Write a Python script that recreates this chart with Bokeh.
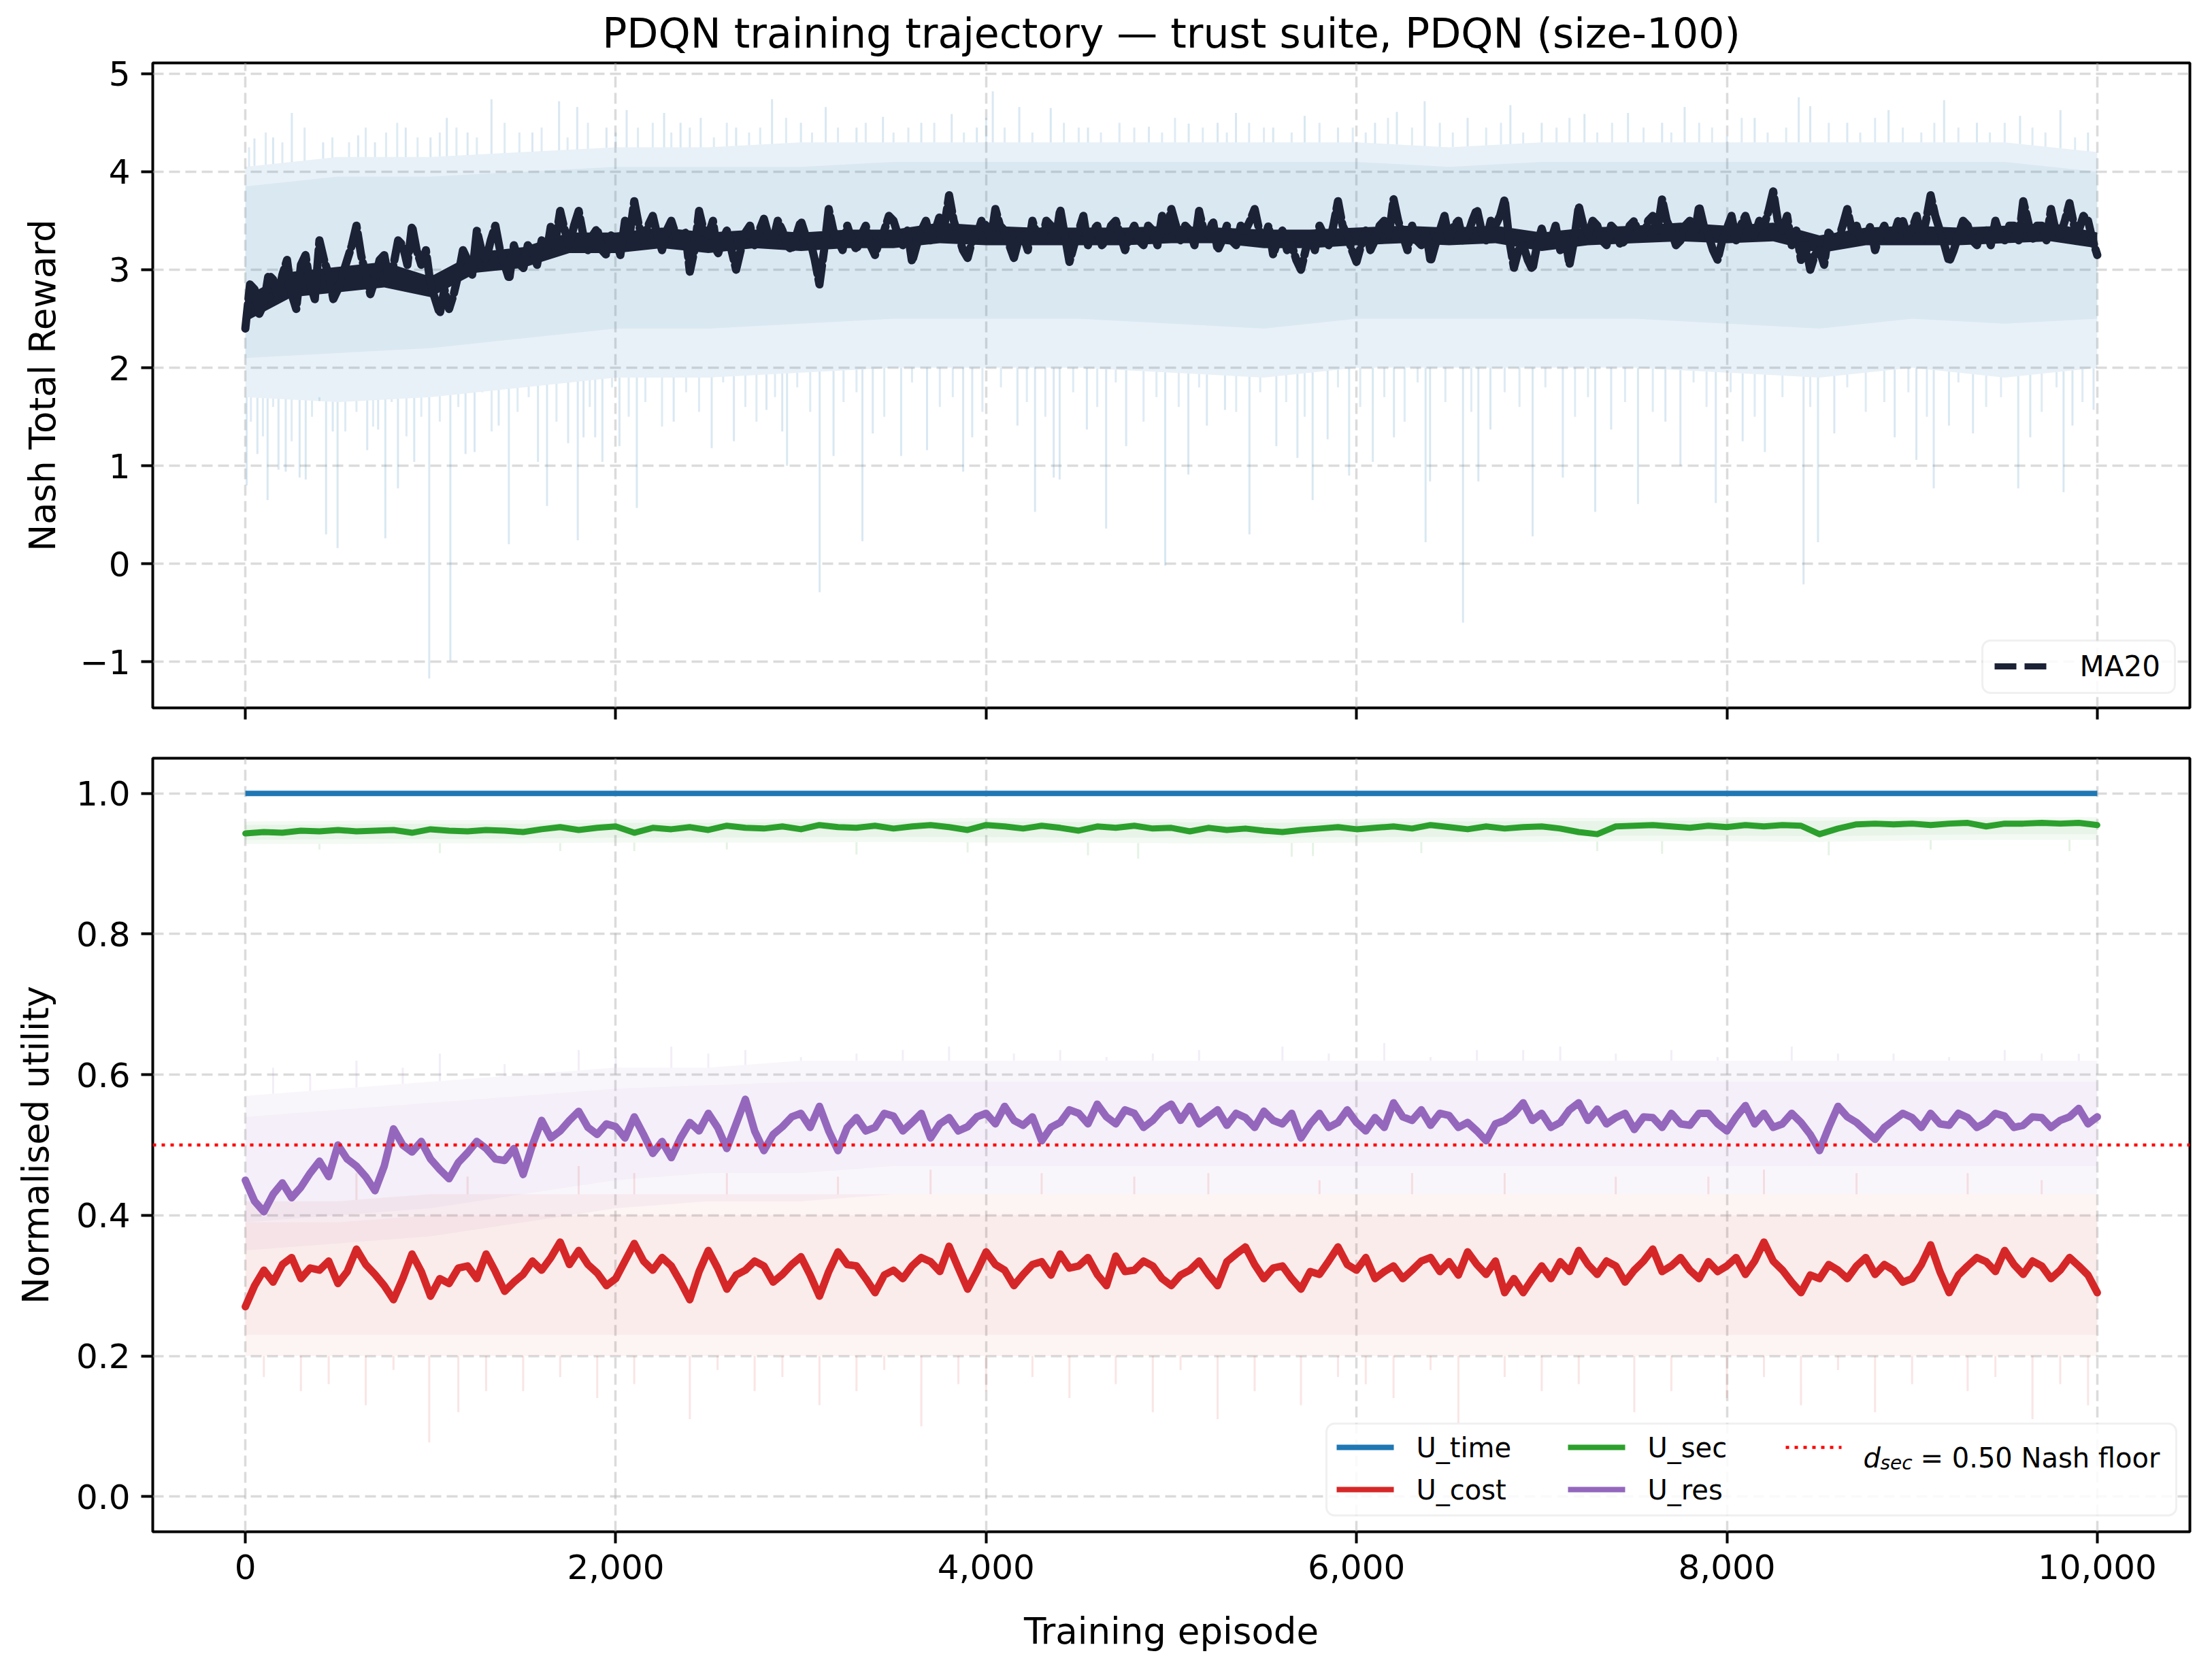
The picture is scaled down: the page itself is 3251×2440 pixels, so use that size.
import numpy as np
from bokeh.plotting import figure
from bokeh.models import (Range1d, FixedTicker, NumeralTickFormatter, Span,
                          BoxAnnotation, Label, Arrow)
from bokeh.layouts import column
from bokeh.embed import file_html
from bokeh.resources import INLINE

# ---------------------------------------------------------------- data
TITLE = "PDQN training trajectory \u2014 trust suite, PDQN (size-100)"

EP_25 = list(range(0, 10001, 25))     # sample grid of the reward MA20
EP_50 = list(range(0, 10001, 50))     # sample grid of U_cost / U_res MA
EP_100 = list(range(0, 10001, 100))   # sample grid of U_sec MA
EP_250 = list(range(0, 10001, 250))   # grid of the MA20 dense-core edges
EP_BAND = list(range(0, 10001, 500))  # grid of the raw-trace envelopes

REWARD_MA20 = [
    2.40, 2.85, 2.80, 2.55, 2.65, 2.95, 2.90, 2.70, 2.95, 3.10, 2.75, 2.60, 3.05, 3.15, 2.85, 2.70, 3.30, 3.10, 2.95, 2.70,
    2.80, 2.95, 3.10, 3.25, 3.45, 3.15, 2.95, 2.75, 2.90, 3.10, 3.15, 2.90, 3.05, 3.30, 3.25, 3.05, 3.45, 3.20, 3.05, 3.20,
    2.85, 2.70, 2.55, 2.80, 2.60, 2.75, 2.95, 3.20, 3.10, 2.95, 3.40, 3.20, 3.10, 3.30, 3.45, 3.20, 3.05, 2.90, 3.25, 3.10,
    3.00, 3.25, 3.20, 3.05, 3.30, 3.15, 3.45, 3.30, 3.60, 3.40, 3.25, 3.45, 3.60, 3.35, 3.20, 3.35, 3.42, 3.20, 3.15, 3.35,
    3.30, 3.15, 3.50, 3.35, 3.70, 3.45, 3.30, 3.45, 3.55, 3.35, 3.20, 3.40, 3.50, 3.35, 3.25, 3.40, 2.98, 3.20, 3.60, 3.40,
    3.35, 3.50, 3.15, 3.30, 3.40, 3.20, 3.00, 3.20, 3.38, 3.45, 3.25, 3.40, 3.52, 3.35, 3.30, 3.50, 3.40, 3.25, 3.20, 3.35,
    3.50, 3.35, 3.30, 3.10, 2.85, 3.20, 3.62, 3.40, 3.30, 3.20, 3.45, 3.30, 3.20, 3.35, 3.45, 3.25, 3.15, 3.30, 3.40, 3.55,
    3.50, 3.35, 3.25, 3.40, 3.08, 3.25, 3.40, 3.50, 3.30, 3.40, 3.55, 3.45, 3.76, 3.50, 3.35, 3.20, 3.12, 3.30, 3.35, 3.50,
    3.45, 3.30, 3.62, 3.45, 3.40, 3.25, 3.12, 3.30, 3.35, 3.20, 3.50, 3.35, 3.30, 3.50, 3.45, 3.30, 3.62, 3.35, 3.08, 3.25,
    3.40, 3.55, 3.25, 3.40, 3.45, 3.25, 3.30, 3.45, 3.50, 3.35, 3.20, 3.35, 3.45, 3.30, 3.25, 3.45, 3.40, 3.25, 3.55, 3.40,
    3.62, 3.45, 3.30, 3.45, 3.40, 3.25, 3.60, 3.40, 3.35, 3.50, 3.20, 3.30, 3.45, 3.30, 3.25, 3.45, 3.40, 3.50, 3.62, 3.40,
    3.30, 3.45, 3.15, 3.30, 3.40, 3.20, 3.25, 3.10, 3.00, 3.20, 3.35, 3.20, 3.45, 3.35, 3.25, 3.45, 3.70, 3.45, 3.35, 3.20,
    3.08, 3.25, 3.40, 3.20, 3.30, 3.45, 3.50, 3.35, 3.72, 3.50, 3.35, 3.20, 3.45, 3.30, 3.25, 3.40, 3.08, 3.25, 3.40, 3.55,
    3.30, 3.45, 3.50, 3.30, 3.35, 3.50, 3.62, 3.40, 3.30, 3.50, 3.45, 3.55, 3.72, 3.30, 3.02, 3.20, 3.25, 3.10, 3.00, 3.25,
    3.42, 3.25, 3.30, 3.45, 3.20, 3.35, 3.05, 3.30, 3.65, 3.45, 3.35, 3.50, 3.45, 3.30, 3.25, 3.45, 3.40, 3.25, 3.30, 3.45,
    3.50, 3.35, 3.35, 3.50, 3.55, 3.40, 3.72, 3.50, 3.40, 3.25, 3.30, 3.45, 3.50, 3.35, 3.65, 3.45, 3.35, 3.20, 3.10, 3.30,
    3.42, 3.55, 3.30, 3.45, 3.55, 3.40, 3.35, 3.50, 3.45, 3.60, 3.80, 3.50, 3.40, 3.55, 3.25, 3.40, 3.10, 3.25, 3.00, 3.15,
    3.20, 3.05, 3.40, 3.25, 3.30, 3.45, 3.62, 3.40, 3.45, 3.30, 3.30, 3.45, 3.20, 3.35, 3.45, 3.30, 3.35, 3.50, 3.50, 3.35,
    3.42, 3.55, 3.30, 3.50, 3.76, 3.55, 3.40, 3.25, 3.08, 3.20, 3.35, 3.50, 3.45, 3.30, 3.25, 3.40, 3.40, 3.25, 3.50, 3.35,
    3.30, 3.45, 3.45, 3.30, 3.70, 3.50, 3.30, 3.45, 3.45, 3.30, 3.62, 3.40, 3.35, 3.50, 3.68, 3.45, 3.40, 3.55, 3.50, 3.30,
    3.15,
]
# edges of the solidly over-drawn core of the MA20 curve
REWARD_MA20_DENSE_LO = [2.47, 2.72, 2.77, 2.82, 2.72, 2.97, 3.02, 3.17, 3.17, 3.22, 3.17,
                        3.22, 3.19, 3.22, 3.22, 3.27, 3.25, 3.25, 3.25, 3.25, 3.27,
                        3.27, 3.22, 3.22, 3.25, 3.27, 3.25, 3.27, 3.19, 3.25, 3.27,
                        3.29, 3.27, 3.29, 3.17, 3.25, 3.25, 3.25, 3.27, 3.29, 3.22]
REWARD_MA20_DENSE_HI = [2.73, 2.98, 3.03, 3.08, 2.93, 3.18, 3.23, 3.38, 3.38, 3.43, 3.38,
                        3.41, 3.38, 3.41, 3.41, 3.48, 3.45, 3.43, 3.43, 3.43, 3.45,
                        3.43, 3.41, 3.41, 3.43, 3.45, 3.43, 3.45, 3.38, 3.43, 3.45,
                        3.48, 3.45, 3.48, 3.35, 3.43, 3.45, 3.43, 3.45, 3.48, 3.38]

# raw reward trace: envelope of the dense band (outer) and its core
REWARD_BAND_LO = [1.70, 1.65, 1.70, 1.80, 1.90, 1.90, 1.95, 2.00, 2.00, 2.00, 1.95,
                  1.90, 2.00, 2.00, 2.00, 2.00, 1.95, 1.90, 2.00, 1.90, 2.00]
REWARD_BAND_HI = [4.05, 4.15, 4.15, 4.20, 4.25, 4.25, 4.30, 4.30, 4.30, 4.30, 4.30,
                  4.30, 4.30, 4.25, 4.30, 4.30, 4.30, 4.30, 4.30, 4.30, 4.20]
REWARD_CORE_LO = [2.10, 2.15, 2.20, 2.30, 2.40, 2.40, 2.45, 2.50, 2.50, 2.50, 2.45,
                  2.40, 2.50, 2.50, 2.50, 2.50, 2.45, 2.40, 2.50, 2.45, 2.50]
REWARD_CORE_HI = [3.85, 3.95, 3.95, 4.00, 4.05, 4.05, 4.05, 4.10, 4.10, 4.10, 4.10,
                  4.10, 4.10, 4.05, 4.10, 4.10, 4.10, 4.10, 4.10, 4.10, 4.00]
# isolated raw episodes reaching far below / above the band
REWARD_DOWN_EP = [7, 65, 120, 179, 218, 293, 326, 436, 472, 498, 658, 717, 756, 824, 912,
                  993, 1107, 1189, 1238, 1368, 1423, 1580, 1629, 1743, 1795, 1826, 1889,
                  1928, 2020, 2114, 2313, 2518, 2638, 2814, 2899, 2925, 3101, 3176, 3332,
                  3388, 3541, 3681, 3876, 3925, 4169, 4264, 4365, 4397, 4544, 4648, 4756,
                  4967, 5092, 5192, 5290, 5422, 5567, 5681, 5763, 5844, 5960, 6088, 6202,
                  6373, 6397, 6575, 6658, 6723, 6951, 7114, 7289, 7375, 7520, 7668, 7749,
                  7940, 8085, 8205, 8414, 8492, 8580, 8906, 9023, 9117, 9199, 9329, 9573,
                  9638, 9818, 9866, 9980]
REWARD_DOWN_VAL = [0.80, 1.12, 0.65, 0.96, 0.94, 0.88, 0.86, 0.30, 1.35, 0.16, 1.16, 1.37,
                   0.26, 0.77, 1.04, -1.17, -0.99, 1.12, 1.14, 1.41, 0.20, 1.04, 0.59, 1.23,
                   0.24, 1.29, 1.29, 1.04, 1.20, 0.57, 1.45, 1.18, 1.25, 1.57, 1.35, 1.00,
                   -0.29, 1.10, 0.23, 1.33, 1.10, 1.16, 0.94, 1.29, 1.41, 0.53, 0.88, 0.86,
                   1.37, 0.36, 1.20, -0.02, 0.91, 1.41, 1.57, 0.30, 1.20, 1.08, 0.65, 1.27,
                   0.90, 1.04, 1.29, 0.22, 0.84, -0.60, 0.84, 1.37, 0.28, 0.88, 0.53, 1.37,
                   0.61, 1.45, 1.00, 0.62, 1.25, 1.14, -0.21, 0.22, 1.33, 1.29, 1.06, 0.77,
                   1.41, 1.33, 0.77, 1.29, 0.73, 1.41, 1.57]
REWARD_UP_EP = [49, 150, 251, 420, 609, 700, 866, 1000, 1088, 1200, 1329, 1550, 1694, 1792,
                1950, 2059, 2261, 2350, 2459, 2650, 2844, 3000, 3134, 3300, 3443, 3650,
                3814, 3950, 4036, 4179, 4349, 4550, 4879, 5094, 5250, 5349, 5550, 5720,
                5900, 6100, 6218, 6368, 6600, 6831, 7000, 7231, 7466, 7650, 7772, 8000,
                8150, 8388, 8450, 8650, 8873, 9173, 9350, 9583, 9801, 9950]
REWARD_UP_VAL = [4.34, 4.35, 4.60, 4.30, 4.37, 4.30, 4.45, 4.35, 4.55, 4.40, 4.74, 4.40,
                 4.72, 4.66, 4.45, 4.63, 4.60, 4.50, 4.55, 4.45, 4.74, 4.50, 4.66, 4.45,
                 4.56, 4.50, 4.59, 4.45, 4.82, 4.66, 4.65, 4.45, 4.46, 4.49, 4.50, 4.60,
                 4.45, 4.57, 4.45, 4.50, 4.61, 4.72, 4.55, 4.68, 4.50, 4.59, 4.60, 4.50,
                 4.66, 4.36, 4.55, 4.76, 4.67, 4.50, 4.63, 4.73, 4.50, 4.57, 4.63, 4.40]
# the fringe of moderate excursions just outside the band
REWARD_FRINGE_DOWN_EP = [30, 95, 150, 250, 360, 400, 540, 600, 690, 790, 870, 950, 1050, 1150,
                         1280, 1330, 1470, 1530, 1680, 1860, 1980, 2070, 2160, 2250, 2380,
                         2450, 2580, 2700, 2760, 2860, 2980, 3050, 3230, 3300, 3450, 3600,
                         3750, 3820, 3980, 4080, 4220, 4320, 4470, 4600, 4700, 4850, 4920,
                         5040, 5150, 5350, 5480, 5620, 5720, 5900, 6020, 6150, 6260, 6330,
                         6480, 6620, 6800, 6880, 7020, 7180, 7250, 7450, 7600, 7820, 7890,
                         8020, 8150, 8300, 8450, 8650, 8750, 8850, 8980, 9080, 9250, 9400,
                         9480, 9700, 9780, 9920]
REWARD_FRINGE_DOWN_VAL = [1.45, 1.30, 1.60, 1.25, 1.50, 1.70, 1.35, 1.55, 1.40, 1.65,
                          1.30, 1.50, 1.45, 1.60, 1.75, 1.35, 1.55, 1.70, 1.45, 1.60,
                          1.80, 1.50, 1.65, 1.40, 1.75, 1.55, 1.85, 1.60, 1.45, 1.70,
                          1.80, 1.55, 1.65, 1.75, 1.50, 1.85, 1.60, 1.70, 1.55, 1.80,
                          1.65, 1.50, 1.75, 1.60, 1.85, 1.45, 1.70, 1.60, 1.80, 1.55,
                          1.75, 1.65, 1.50, 1.80, 1.60, 1.70, 1.45, 1.85, 1.65, 1.55,
                          1.75, 1.60, 1.80, 1.50, 1.70, 1.65, 1.55, 1.85, 1.60, 1.75,
                          1.50, 1.70, 1.60, 1.80, 1.55, 1.65, 1.75, 1.50, 1.85, 1.60,
                          1.70, 1.55, 1.80, 1.65]
REWARD_FRINGE_UP_EP = [20, 110, 200, 320, 470, 560, 650, 760, 820, 930, 1050, 1140, 1250,
                       1400, 1480, 1600, 1740, 1850, 2000, 2120, 2200, 2300, 2400, 2530,
                       2600, 2720, 2780, 2920, 3060, 3200, 3350, 3500, 3580, 3720, 3880,
                       4000, 4100, 4250, 4420, 4500, 4620, 4720, 4800, 4950, 5020, 5170,
                       5300, 5420, 5500, 5650, 5800, 5980, 6050, 6170, 6300, 6450, 6520,
                       6700, 6780, 6900, 7080, 7150, 7300, 7380, 7550, 7700, 7850, 7920,
                       8080, 8220, 8320, 8550, 8720, 8800, 8950, 9050, 9120, 9250, 9420,
                       9500, 9650, 9720, 9880]
REWARD_FRINGE_UP_VAL = [4.25, 4.40, 4.30, 4.45, 4.35, 4.30, 4.45, 4.40, 4.50, 4.35,
                        4.40, 4.45, 4.35, 4.50, 4.40, 4.45, 4.35, 4.50, 4.40, 4.45,
                        4.50, 4.40, 4.45, 4.35, 4.50, 4.40, 4.45, 4.55, 4.40, 4.45,
                        4.50, 4.40, 4.45, 4.50, 4.40, 4.55, 4.45, 4.40, 4.50, 4.45,
                        4.40, 4.50, 4.45, 4.40, 4.55, 4.45, 4.40, 4.50, 4.45, 4.40,
                        4.50, 4.45, 4.40, 4.55, 4.45, 4.50, 4.40, 4.45, 4.50, 4.40,
                        4.45, 4.55, 4.40, 4.50, 4.45, 4.40, 4.50, 4.45, 4.55, 4.40,
                        4.45, 4.50, 4.40, 4.55, 4.45, 4.40, 4.50, 4.45, 4.40, 4.50,
                        4.45, 4.40, 4.35]

U_TIME_LEVEL = 1.0

U_SEC_MA = [
    0.943, 0.945, 0.944, 0.947, 0.946, 0.948, 0.946, 0.947, 0.948, 0.944,
    0.949, 0.947, 0.946, 0.948, 0.947, 0.945, 0.949, 0.952, 0.948, 0.951,
    0.953, 0.944, 0.951, 0.949, 0.952, 0.948, 0.954, 0.951, 0.950, 0.953,
    0.949, 0.955, 0.952, 0.951, 0.954, 0.950, 0.953, 0.955, 0.952, 0.948,
    0.955, 0.953, 0.950, 0.954, 0.951, 0.947, 0.953, 0.951, 0.954, 0.950,
    0.951, 0.946, 0.951, 0.948, 0.950, 0.947, 0.945, 0.948, 0.950, 0.952,
    0.949, 0.951, 0.953, 0.950, 0.955, 0.952, 0.949, 0.953, 0.950, 0.952,
    0.953, 0.950, 0.945, 0.942, 0.953, 0.954, 0.955, 0.953, 0.951, 0.954,
    0.952, 0.955, 0.953, 0.955, 0.954, 0.942, 0.950, 0.956, 0.957, 0.956,
    0.957, 0.955, 0.957, 0.958, 0.953, 0.957, 0.957, 0.958, 0.957, 0.958,
    0.955,
]
U_RES_MA = [
    0.450, 0.420, 0.405, 0.430, 0.446, 0.425, 0.440, 0.460, 0.477, 0.455, 0.500, 0.480, 0.470, 0.455, 0.435, 0.470, 0.523, 0.500, 0.490, 0.505,
    0.480, 0.465, 0.452, 0.475, 0.489, 0.505, 0.495, 0.480, 0.478, 0.495, 0.458, 0.500, 0.535, 0.510, 0.520, 0.535, 0.548, 0.525, 0.515, 0.530,
    0.526, 0.510, 0.540, 0.515, 0.488, 0.505, 0.482, 0.510, 0.532, 0.520, 0.545, 0.525, 0.495, 0.530, 0.565, 0.520, 0.492, 0.515, 0.526, 0.540,
    0.545, 0.525, 0.555, 0.520, 0.492, 0.525, 0.539, 0.520, 0.525, 0.545, 0.541, 0.520, 0.532, 0.545, 0.510, 0.530, 0.539, 0.520, 0.526, 0.540,
    0.545, 0.530, 0.555, 0.535, 0.528, 0.540, 0.506, 0.525, 0.532, 0.550, 0.545, 0.530, 0.558, 0.540, 0.530, 0.550, 0.545, 0.525, 0.535, 0.550,
    0.558, 0.535, 0.555, 0.530, 0.540, 0.550, 0.528, 0.545, 0.539, 0.525, 0.548, 0.535, 0.530, 0.545, 0.510, 0.530, 0.545, 0.525, 0.532, 0.550,
    0.532, 0.520, 0.539, 0.525, 0.560, 0.540, 0.535, 0.550, 0.528, 0.545, 0.542, 0.525, 0.532, 0.520, 0.506, 0.530, 0.535, 0.545, 0.560, 0.535,
    0.545, 0.525, 0.532, 0.550, 0.560, 0.535, 0.551, 0.530, 0.539, 0.545, 0.522, 0.540, 0.539, 0.525, 0.545, 0.530, 0.528, 0.545, 0.545, 0.530,
    0.520, 0.540, 0.556, 0.530, 0.545, 0.525, 0.530, 0.545, 0.532, 0.515, 0.492, 0.525, 0.555, 0.540, 0.532, 0.520, 0.508, 0.525, 0.535, 0.545,
    0.539, 0.525, 0.545, 0.530, 0.528, 0.545, 0.539, 0.525, 0.532, 0.545, 0.541, 0.525, 0.528, 0.540, 0.539, 0.525, 0.535, 0.540, 0.552, 0.530,
    0.540,
]
U_COST_MA = [
    0.270, 0.300, 0.322, 0.305, 0.330, 0.340, 0.310, 0.325, 0.322, 0.335, 0.303, 0.320, 0.352, 0.330, 0.316, 0.300, 0.280, 0.310, 0.345, 0.320,
    0.285, 0.310, 0.303, 0.325, 0.328, 0.310, 0.345, 0.320, 0.292, 0.305, 0.316, 0.335, 0.322, 0.340, 0.362, 0.330, 0.350, 0.330, 0.318, 0.300,
    0.310, 0.335, 0.360, 0.335, 0.322, 0.340, 0.328, 0.305, 0.280, 0.320, 0.350, 0.325, 0.295, 0.315, 0.322, 0.335, 0.328, 0.305, 0.316, 0.330,
    0.341, 0.315, 0.285, 0.320, 0.348, 0.330, 0.328, 0.310, 0.290, 0.315, 0.322, 0.310, 0.328, 0.340, 0.334, 0.320, 0.356, 0.325, 0.295, 0.320,
    0.348, 0.330, 0.322, 0.300, 0.316, 0.330, 0.334, 0.315, 0.345, 0.325, 0.328, 0.340, 0.316, 0.300, 0.342, 0.320, 0.322, 0.335, 0.328, 0.310,
    0.300, 0.315, 0.322, 0.335, 0.316, 0.300, 0.334, 0.345, 0.355, 0.330, 0.310, 0.325, 0.328, 0.310, 0.295, 0.320, 0.316, 0.335, 0.355, 0.330,
    0.322, 0.340, 0.310, 0.320, 0.328, 0.310, 0.322, 0.335, 0.340, 0.320, 0.334, 0.315, 0.348, 0.330, 0.316, 0.335, 0.290, 0.310, 0.290, 0.310,
    0.328, 0.310, 0.334, 0.320, 0.350, 0.330, 0.316, 0.335, 0.328, 0.305, 0.322, 0.335, 0.352, 0.320, 0.328, 0.340, 0.322, 0.310, 0.334, 0.320,
    0.328, 0.340, 0.316, 0.335, 0.362, 0.335, 0.322, 0.305, 0.290, 0.315, 0.310, 0.330, 0.322, 0.310, 0.328, 0.340, 0.316, 0.330, 0.322, 0.305,
    0.310, 0.330, 0.358, 0.320, 0.290, 0.315, 0.328, 0.340, 0.334, 0.320, 0.350, 0.330, 0.316, 0.335, 0.328, 0.310, 0.322, 0.340, 0.328, 0.315,
    0.290,
]

# raw utility traces: envelopes and isolated excursions
SEC_BAND_LO = [0.928, 0.928, 0.929, 0.929, 0.930, 0.930, 0.930, 0.931, 0.930, 0.930, 0.929,
               0.929, 0.930, 0.931, 0.931, 0.932, 0.932, 0.931, 0.933, 0.934, 0.934]
SEC_BAND_HI = [0.960, 0.961, 0.962, 0.962, 0.963, 0.963, 0.964, 0.964, 0.965, 0.964, 0.964,
               0.963, 0.964, 0.965, 0.965, 0.965, 0.966, 0.966, 0.966, 0.966, 0.966]
SEC_CORE_LO = [0.934, 0.935, 0.935, 0.936, 0.937, 0.937, 0.938, 0.938, 0.938, 0.937, 0.937,
               0.937, 0.938, 0.938, 0.939, 0.940, 0.940, 0.939, 0.941, 0.942, 0.942]
SEC_CORE_HI = [0.955, 0.956, 0.957, 0.957, 0.958, 0.958, 0.959, 0.959, 0.960, 0.959, 0.959,
               0.958, 0.959, 0.960, 0.960, 0.961, 0.961, 0.961, 0.962, 0.962, 0.962]
SEC_DOWN_EP = [400, 1050, 1700, 2100, 2600, 3300, 3900, 4550, 4821, 5650, 5765, 6350, 7300,
               7650, 8550, 9100, 9850]
SEC_DOWN_VAL = [0.920, 0.915, 0.918, 0.918, 0.920, 0.913, 0.916, 0.912, 0.907, 0.910, 0.911,
                0.915, 0.918, 0.914, 0.912, 0.920, 0.918]

RES_BAND_LO = [0.35, 0.36, 0.37, 0.39, 0.41, 0.42, 0.42, 0.43, 0.43, 0.43, 0.43,
               0.43, 0.43, 0.43, 0.43, 0.43, 0.43, 0.43, 0.43, 0.43, 0.43]
RES_BAND_HI = [0.57, 0.58, 0.59, 0.60, 0.61, 0.61, 0.62, 0.62, 0.62, 0.62, 0.62,
               0.62, 0.62, 0.62, 0.62, 0.62, 0.62, 0.62, 0.62, 0.62, 0.62]
RES_CORE_LO = [0.39, 0.40, 0.41, 0.43, 0.45, 0.46, 0.46, 0.47, 0.47, 0.47, 0.47,
               0.47, 0.47, 0.47, 0.47, 0.47, 0.47, 0.47, 0.47, 0.47, 0.47]
RES_CORE_HI = [0.54, 0.55, 0.56, 0.57, 0.58, 0.585, 0.59, 0.59, 0.59, 0.59, 0.59,
               0.59, 0.59, 0.59, 0.59, 0.59, 0.59, 0.59, 0.59, 0.59, 0.59]
RES_UP_EP = [150, 600, 1050, 1800, 2300, 2700, 3300, 3800, 4400, 4900, 5600, 6150, 6650,
             7100, 7700, 8350, 8900, 9500, 9900,
             350, 850, 1400, 2000, 2500, 3000, 3550, 4150, 4650, 5150, 5850, 6400, 6900,
             7400, 7950, 8600, 9200, 9700]
RES_UP_VAL = [0.610, 0.620, 0.630, 0.635, 0.640, 0.635, 0.630, 0.640, 0.635, 0.630, 0.640,
              0.645, 0.635, 0.640, 0.635, 0.640, 0.630, 0.635, 0.630,
              0.600, 0.610, 0.615, 0.625, 0.630, 0.625, 0.635, 0.630, 0.625, 0.635, 0.630,
              0.625, 0.635, 0.630, 0.625, 0.630, 0.625, 0.630]

COST_BAND_LO = [0.20, 0.20, 0.20, 0.20, 0.20, 0.20, 0.20, 0.20, 0.20, 0.20, 0.20,
                0.20, 0.20, 0.20, 0.20, 0.20, 0.20, 0.20, 0.20, 0.20, 0.20]
COST_BAND_HI = [0.42, 0.42, 0.43, 0.43, 0.43, 0.43, 0.43, 0.43, 0.43, 0.43, 0.43,
                0.43, 0.43, 0.43, 0.43, 0.43, 0.43, 0.43, 0.43, 0.43, 0.43]
COST_CORE_LO = [0.23, 0.23, 0.23, 0.23, 0.23, 0.23, 0.23, 0.23, 0.23, 0.23, 0.23,
                0.23, 0.23, 0.23, 0.23, 0.23, 0.23, 0.23, 0.23, 0.23, 0.23]
COST_CORE_HI = [0.39, 0.39, 0.40, 0.40, 0.40, 0.40, 0.40, 0.40, 0.40, 0.40, 0.40,
                0.40, 0.40, 0.40, 0.40, 0.40, 0.40, 0.40, 0.40, 0.40, 0.40]
COST_DOWN_EP = [300, 650, 993, 1150, 1500, 1900, 2400, 2750, 3100, 3650, 4000, 4450, 4900,
                5250, 5700, 6200, 6550, 7000, 7500, 8000, 8400, 8800, 9300, 9650, 9950,
                100, 450, 800, 1300, 1700, 2100, 2550, 2900, 3300, 3450, 3850, 4250, 4700,
                5050, 5450, 5900, 6050, 6400, 6800, 7200, 7700, 8200, 8600, 9000, 9450, 9800]
COST_DOWN_VAL = [0.15, 0.13, 0.077, 0.12, 0.15, 0.14, 0.11, 0.15, 0.13, 0.10, 0.15, 0.14,
                 0.12, 0.11, 0.13, 0.14, 0.105, 0.15, 0.12, 0.14, 0.13, 0.12, 0.15, 0.11, 0.13,
                 0.17, 0.16, 0.18, 0.15, 0.17, 0.16, 0.18, 0.17, 0.15, 0.18, 0.16, 0.17, 0.16,
                 0.18, 0.15, 0.17, 0.16, 0.18, 0.17, 0.16, 0.15, 0.17, 0.18, 0.16, 0.17, 0.16]
COST_UP_EP = [600, 1800, 2600, 3700, 5200, 6300, 7400, 8200, 9300,
              1200, 2100, 3200, 4300, 4800, 5800, 6800, 7900, 8700, 9700]
COST_UP_VAL = [0.46, 0.47, 0.46, 0.465, 0.46, 0.46, 0.455, 0.465, 0.46,
               0.455, 0.46, 0.455, 0.46, 0.455, 0.45, 0.46, 0.455, 0.46, 0.45]

NASH_FLOOR = 0.50

X_TICKS = [0, 2000, 4000, 6000, 8000, 10000]
Y1_TICKS = [-1, 0, 1, 2, 3, 4, 5]
Y2_TICKS = [0.0, 0.2, 0.4, 0.6, 0.8, 1.0]

# ---------------------------------------------------------------- style
FONT = "DejaVu Sans"
C_MA = "#1b2236"
C_TIME = "#1f77b4"
C_COST = "#d62728"
C_SEC = "#2ca02c"
C_RES = "#9467bd"
C_REW_RAW = "#1f77b4"

X_RANGE = (-500, 10500)
Y1_RANGE = (-1.47, 5.11)
Y2_RANGE = (-0.05, 1.05)
FW = 2994
FH1 = 948
FH2 = 1137


def style(p):
    p.outline_line_color = "black"
    p.outline_line_width = 4
    p.background_fill_color = "white"
    p.border_fill_color = "white"
    for ax in p.axis:
        ax.axis_line_color = None
        ax.major_tick_line_color = "black"
        ax.major_tick_line_width = 4
        ax.major_tick_in = 0
        ax.major_tick_out = 17
        ax.minor_tick_line_color = None
        ax.major_label_text_font = FONT
        ax.major_label_text_font_size = "50px"
        ax.major_label_text_color = "black"
        ax.major_label_standoff = 16
        ax.axis_label_text_font = FONT
        ax.axis_label_text_font_size = "53px"
        ax.axis_label_text_font_style = "normal"
        ax.axis_label_text_color = "black"
    for g in p.grid:
        g.grid_line_color = "#b0b0b0"
        g.grid_line_alpha = 0.45
        g.grid_line_width = 3.5
        g.grid_line_dash = "16 8"


def fx(px):
    return X_RANGE[0] + px * (X_RANGE[1] - X_RANGE[0]) / FW


def fy(py, yr, fh):
    return yr[1] - py * (yr[1] - yr[0]) / fh


def band(p, color, ep, lo, hi, clo, chi, a_outer, a_core):
    p.varea(x=ep, y1=lo, y2=hi, fill_color=color, fill_alpha=a_outer)
    p.varea(x=ep, y1=clo, y2=chi, fill_color=color, fill_alpha=a_core)


def spikes(p, color, ep_band, anchor_vals, sp_ep, sp_val, alpha):
    anchor = np.interp(sp_ep, ep_band, anchor_vals)
    p.segment(x0=sp_ep, y0=anchor, x1=sp_ep, y1=sp_val,
              line_color=color, line_alpha=alpha, line_width=3)


# ---------------------------------------------------------------- top panel
x_range = Range1d(*X_RANGE)
p1 = figure(frame_width=FW, frame_height=FH1, x_range=x_range,
            y_range=Range1d(*Y1_RANGE), output_backend="svg", toolbar_location=None,
            min_border_left=224, min_border_right=17, min_border_top=92,
            min_border_bottom=34, title=TITLE)
p1.title.text_font = FONT
p1.title.text_font_size = "60px"
p1.title.text_font_style = "normal"
p1.title.text_color = "black"
p1.title.align = "center"
p1.title.standoff = 18

band(p1, C_REW_RAW, EP_BAND, REWARD_BAND_LO, REWARD_BAND_HI, REWARD_CORE_LO,
     REWARD_CORE_HI, 0.10, 0.065)
spikes(p1, C_REW_RAW, EP_BAND, REWARD_BAND_LO, REWARD_FRINGE_DOWN_EP,
       REWARD_FRINGE_DOWN_VAL, 0.15)
spikes(p1, C_REW_RAW, EP_BAND, REWARD_BAND_HI, REWARD_FRINGE_UP_EP,
       REWARD_FRINGE_UP_VAL, 0.15)
spikes(p1, C_REW_RAW, EP_BAND, REWARD_BAND_LO, REWARD_DOWN_EP, REWARD_DOWN_VAL, 0.17)
spikes(p1, C_REW_RAW, EP_BAND, REWARD_BAND_HI, REWARD_UP_EP, REWARD_UP_VAL, 0.17)
p1.varea(x=EP_250, y1=REWARD_MA20_DENSE_LO, y2=REWARD_MA20_DENSE_HI, fill_color=C_MA,
         fill_alpha=1.0)
p1.line(EP_25, REWARD_MA20, line_color=C_MA, line_width=12, line_dash="36 8",
        line_join="round", line_cap="round")

p1.xaxis.ticker = FixedTicker(ticks=X_TICKS)
p1.xaxis.major_label_overrides = {t: "" for t in X_TICKS}
p1.yaxis.ticker = FixedTicker(ticks=Y1_TICKS)
p1.yaxis.major_label_overrides = {-1: "\u22121"}
p1.yaxis.axis_label = "Nash Total Reward"
p1.yaxis.axis_label_standoff = 22
style(p1)
p1.xaxis.major_label_standoff = 0

# manual legend, top panel (positions in frame pixels)
p1.add_layout(BoxAnnotation(left=fx(2689), right=fx(2972), top=fy(849, Y1_RANGE, FH1),
                            bottom=fy(926, Y1_RANGE, FH1), fill_color="white",
                            fill_alpha=0.85, line_color="#cccccc", line_width=3,
                            border_radius=12))
p1.add_layout(Arrow(end=None, x_start=fx(2707), x_end=fx(2795),
                    y_start=fy(887, Y1_RANGE, FH1), y_end=fy(887, Y1_RANGE, FH1),
                    line_color=C_MA, line_width=9, line_dash="32 12"))
p1.add_layout(Label(x=fx(2832), y=fy(887, Y1_RANGE, FH1), text="MA20",
                    text_font=FONT, text_font_size="42px", text_color="black",
                    text_baseline="middle"))

# ---------------------------------------------------------------- bottom panel
p2 = figure(frame_width=FW, frame_height=FH2, x_range=x_range,
            y_range=Range1d(*Y2_RANGE), output_backend="svg", toolbar_location=None,
            min_border_left=224, min_border_right=17, min_border_top=40,
            min_border_bottom=160)

band(p2, C_SEC, EP_BAND, SEC_BAND_LO, SEC_BAND_HI, SEC_CORE_LO, SEC_CORE_HI, 0.06, 0.05)
spikes(p2, C_SEC, EP_BAND, SEC_BAND_LO, SEC_DOWN_EP, SEC_DOWN_VAL, 0.12)
band(p2, C_RES, EP_BAND, RES_BAND_LO, RES_BAND_HI, RES_CORE_LO, RES_CORE_HI, 0.06, 0.045)
spikes(p2, C_RES, EP_BAND, RES_BAND_HI, RES_UP_EP, RES_UP_VAL, 0.12)
band(p2, C_COST, EP_BAND, COST_BAND_LO, COST_BAND_HI, COST_CORE_LO, COST_CORE_HI,
     0.05, 0.04)
spikes(p2, C_COST, EP_BAND, COST_BAND_LO, COST_DOWN_EP, COST_DOWN_VAL, 0.12)
spikes(p2, C_COST, EP_BAND, COST_BAND_HI, COST_UP_EP, COST_UP_VAL, 0.12)

p2.line([EP_100[0], EP_100[-1]], [U_TIME_LEVEL, U_TIME_LEVEL], line_color=C_TIME,
        line_width=8)
p2.line(EP_100, U_SEC_MA, line_color=C_SEC, line_width=9, line_join="round",
        line_cap="round")
p2.line(EP_50, U_RES_MA, line_color=C_RES, line_width=11, line_join="round",
        line_cap="round")
p2.line(EP_50, U_COST_MA, line_color=C_COST, line_width=11, line_join="round",
        line_cap="round")
p2.add_layout(Span(location=NASH_FLOOR, dimension="width", line_color="red",
                   line_width=4.5, line_dash="5 8"))

p2.xaxis.ticker = FixedTicker(ticks=X_TICKS)
p2.xaxis.formatter = NumeralTickFormatter(format="0,0")
p2.yaxis.ticker = FixedTicker(ticks=Y2_TICKS)
p2.yaxis.formatter = NumeralTickFormatter(format="0.0")
p2.xaxis.axis_label = "Training episode"
p2.yaxis.axis_label = "Normalised utility"
p2.xaxis.axis_label_standoff = 43
p2.yaxis.axis_label_standoff = 26
style(p2)


# manual legend, bottom panel (positions in frame pixels)
def by(py):
    return fy(py, Y2_RANGE, FH2)


p2.add_layout(BoxAnnotation(left=fx(1725), right=fx(2974), top=by(978), bottom=by(1113),
                            fill_color="white", fill_alpha=0.85, line_color="#cccccc",
                            line_width=3, border_radius=12))
LEG_ITEMS = [
    ("U_time", C_TIME, 1740, 1013),
    ("U_cost", C_COST, 1740, 1075),
    ("U_sec", C_SEC, 2080, 1013),
    ("U_res", C_RES, 2080, 1075),
]
for name, col, hx, ry in LEG_ITEMS:
    p2.add_layout(Arrow(end=None, x_start=fx(hx), x_end=fx(hx + 84), y_start=by(ry),
                        y_end=by(ry), line_color=col, line_width=8))
    p2.add_layout(Label(x=fx(hx + 117), y=by(ry), text=name, text_font=FONT,
                        text_font_size="40px", text_color="black",
                        text_baseline="middle"))
p2.add_layout(Arrow(end=None, x_start=fx(2400), x_end=fx(2482), y_start=by(1013),
                    y_end=by(1013), line_color="red", line_width=4.5, line_dash="5 8"))
p2.add_layout(Label(x=fx(2514), y=by(1028), text="d", text_font=FONT,
                    text_font_size="40px", text_font_style="italic", text_color="black",
                    text_baseline="alphabetic"))
p2.add_layout(Label(x=fx(2539), y=by(1036), text="sec", text_font=FONT,
                    text_font_size="28px", text_font_style="italic", text_color="black",
                    text_baseline="alphabetic"))
p2.add_layout(Label(x=fx(2598), y=by(1028), text="= 0.50 Nash floor",
                    text_font=FONT, text_font_size="40px", text_color="black",
                    text_baseline="alphabetic"))

layout = column(p1, p2)
open("out.html", "w").write(file_html(layout, INLINE))
